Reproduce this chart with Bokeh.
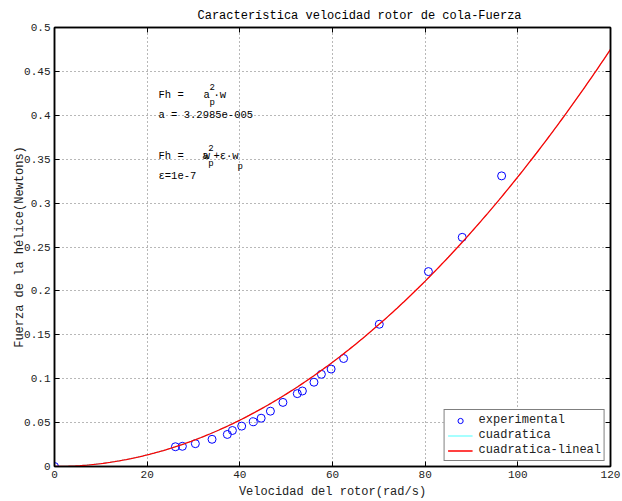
import numpy as np
from bokeh.plotting import figure
from bokeh.models import (LinearAxis, FixedTicker, CustomJSTickFormatter, Range1d,
                          Legend, LegendItem, ColumnDataSource)
from bokeh.core.properties import value
from bokeh.embed import file_html
from bokeh.resources import INLINE

# ---------------- data ----------------
vel_exp = [0.0, 26.1, 27.6, 30.4, 34.0, 37.3, 38.4, 40.4, 42.9, 44.6, 46.6, 49.3,
           52.4, 53.5, 56.0, 57.6, 59.7, 62.4, 70.1, 80.7, 88.0, 96.5]
fuerza_exp = [0.0, 0.0225, 0.023, 0.0260, 0.031, 0.0365, 0.041, 0.046, 0.051, 0.055,
              0.063, 0.073, 0.083, 0.086, 0.096, 0.105, 0.111, 0.123, 0.162, 0.222,
              0.261, 0.331]
a_coef = 3.2985e-05
eps_coef = 1e-7
w_curve = np.linspace(0, 120, 241)
f_cuad = a_coef * w_curve ** 2
f_cuad_lin = a_coef * w_curve ** 2 + eps_coef * w_curve

x_ticks = [0, 20, 40, 60, 80, 100, 120]
y_ticks = [0, 0.05, 0.1, 0.15, 0.2, 0.25, 0.3, 0.35, 0.4, 0.45, 0.5]

title_text = "Característica  velocidad rotor de cola-Fuerza"
xlabel = "Velocidad del rotor(rad/s)"
ylabel = "Fuerza de la hélice(Newtons)"

# annotation texts
ann_text = ["Fh =", "a", "2", "p", "·w", "a = 3.2985e-005",
            "Fh =", "a", "w", "2", "p", "+ε·w", "p", "ε=1e-7"]
ann_x = [22.45, 32.16, 33.45, 33.45, 34.3, 22.45,
         22.45, 31.9, 32.2, 33.2, 33.2, 34.3, 39.5, 22.45]
ann_y = [0.4226, 0.4226, 0.4317, 0.4135, 0.4226, 0.4009,
         0.3542, 0.3542, 0.3542, 0.3622, 0.3451, 0.3542, 0.3406, 0.3303]
ann_size = ["10.5px", "10.5px", "9px", "9px", "10.5px", "10.5px",
            "10.5px", "10.5px", "10.5px", "9px", "9px", "10.5px", "9px", "10.5px"]

FONT = "Liberation Mono"

p = figure(width=622, height=501, x_range=Range1d(0, 120), y_range=Range1d(0, 0.5),
           output_backend="svg", toolbar_location=None,
           min_border_left=54, min_border_right=12, min_border_top=27, min_border_bottom=35,
           x_axis_label=xlabel, y_axis_label=ylabel)
p.background_fill_color = "white"
p.border_fill_color = "white"
p.outline_line_color = "black"
p.outline_line_width = 1.5
p.outline_line_alpha = 1.0

p.title.text = title_text
p.title.text_font = FONT
p.title.text_font_size = "12px"
p.title.text_font_style = "normal"
p.title.align = "left"
p.title.offset = 143
p.title.text_color = "black"

fmt = CustomJSTickFormatter(code="return Number(tick.toFixed(3)).toString();")
blank_fmt = CustomJSTickFormatter(code="return '';")

def style_axis(ax, ticks, show_labels=True):
    ax.ticker = FixedTicker(ticks=ticks)
    ax.formatter = fmt if show_labels else blank_fmt
    ax.major_tick_in = 5
    ax.major_tick_out = 0
    ax.minor_tick_line_color = None
    ax.axis_line_color = "black"
    ax.axis_line_width = 1.5
    ax.major_tick_line_color = "black"
    ax.major_label_text_font = FONT
    ax.major_label_text_font_size = "11px"
    ax.major_label_text_color = "#222222"
    ax.major_label_standoff = 4 if show_labels else 0
    ax.axis_label_text_font = FONT
    ax.axis_label_text_font_size = "12px"
    ax.axis_label_text_font_style = "normal"
    ax.axis_label_text_color = "#222222"
    ax.axis_label_standoff = 4

style_axis(p.xaxis[0], x_ticks)
style_axis(p.yaxis[0], y_ticks)
p.yaxis[0].major_label_orientation = "horizontal"
p.yaxis[0].axis_label_standoff = -6

top = LinearAxis()
style_axis(top, x_ticks, show_labels=False)
p.add_layout(top, "above")
right = LinearAxis()
style_axis(right, y_ticks, show_labels=False)
p.add_layout(right, "right")

for g, ticks in ((p.xgrid[0], x_ticks), (p.ygrid[0], y_ticks)):
    g.ticker = FixedTicker(ticks=ticks)
    g.grid_line_color = "#333333"
    g.grid_line_alpha = 0.7
    g.grid_line_dash = "1 3"

r_exp = p.scatter(vel_exp, fuerza_exp, marker="circle", size=8, fill_color=None,
                  line_color="blue", line_width=1)
r_cuad = p.line(w_curve, f_cuad, line_color="cyan", line_width=0.7)
r_lin = p.line(w_curve, f_cuad_lin, line_color="red", line_width=1.3)

src = ColumnDataSource(dict(x=ann_x, y=ann_y, t=ann_text, s=ann_size))
p.text(x="x", y="y", text="t", source=src, text_font=value(FONT), text_font_size="s",
       text_baseline="middle", text_align="left", text_color="black")

legend = Legend(items=[LegendItem(label="experimental", renderers=[r_exp]),
                       LegendItem(label="cuadratica", renderers=[r_cuad]),
                       LegendItem(label="cuadratica-lineal", renderers=[r_lin])],
                location="bottom_right")
legend.label_text_font = FONT
legend.label_text_font_size = "12px"
legend.label_text_color = "#222222"
legend.label_height = 13
legend.glyph_height = 13
legend.glyph_width = 25
legend.label_standoff = 6
legend.spacing = 1
legend.padding = 3
legend.margin = 5
legend.border_line_color = "black"
legend.border_line_width = 1.5
legend.background_fill_alpha = 1.0
p.add_layout(legend)

open("out.html", "w").write(file_html(p, INLINE))
